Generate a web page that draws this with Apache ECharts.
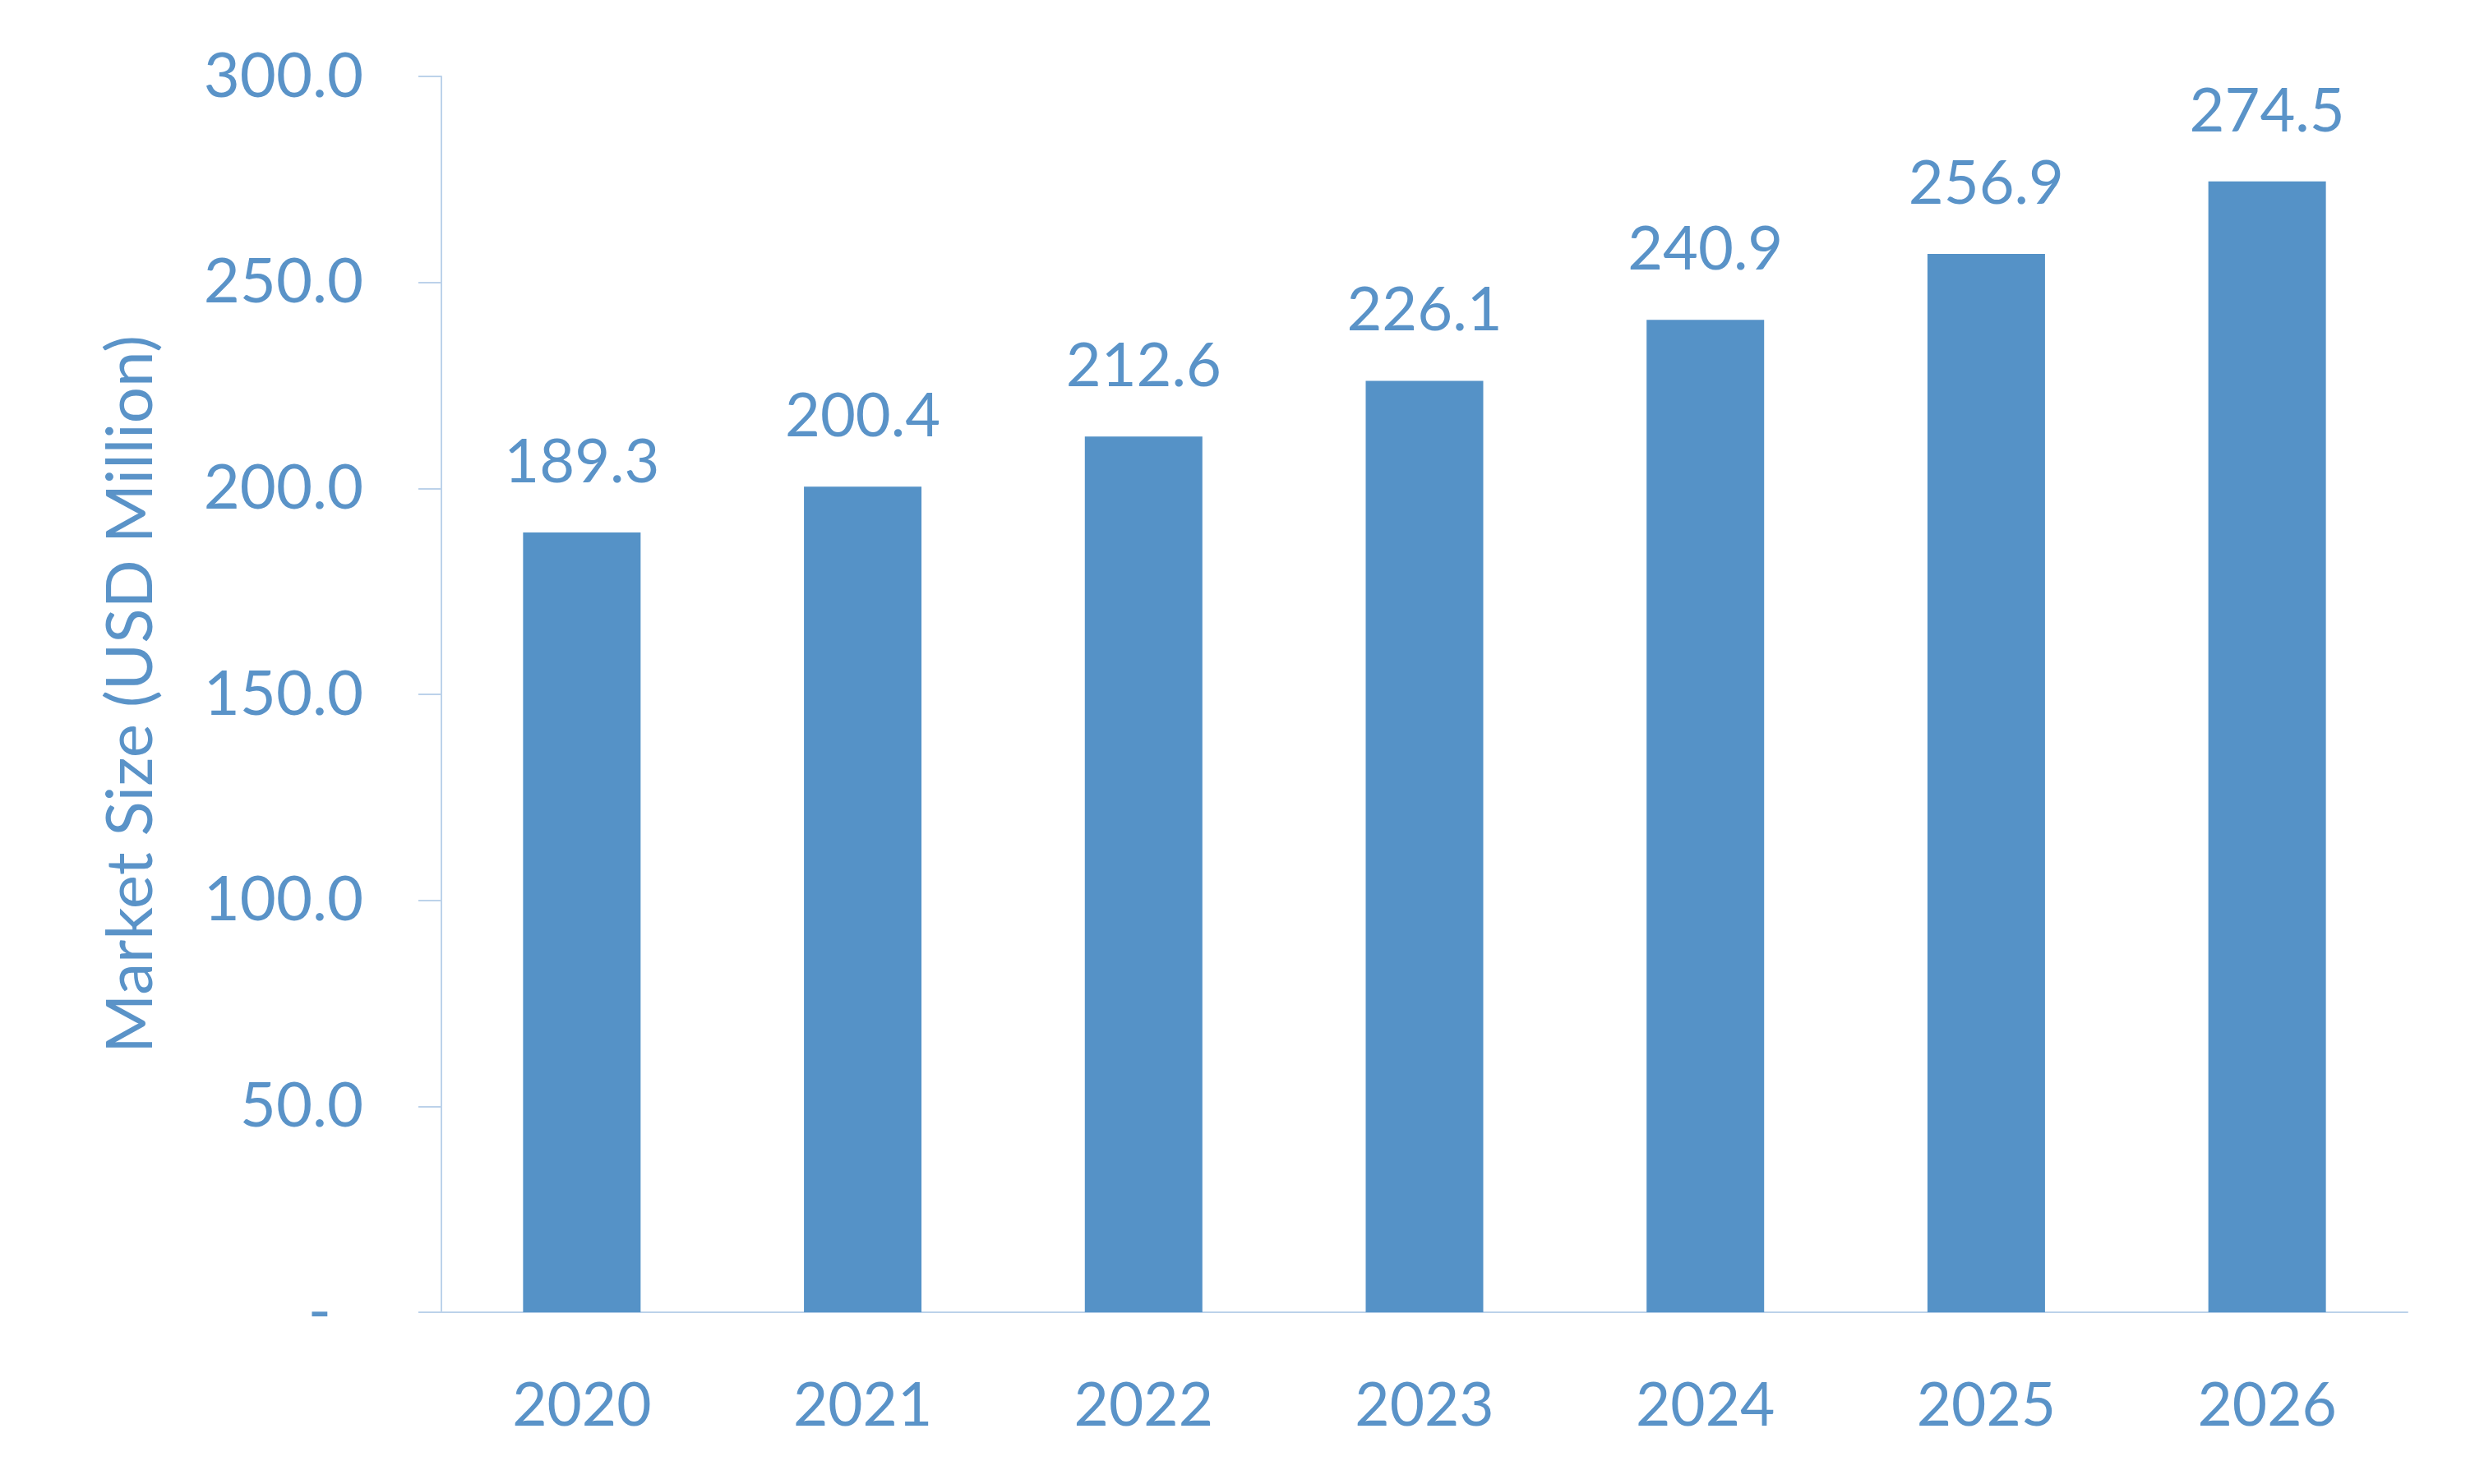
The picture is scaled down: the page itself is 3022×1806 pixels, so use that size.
<!DOCTYPE html>
<html>
<head>
<meta charset="utf-8">
<script src="https://cdn.jsdelivr.net/npm/echarts@6/dist/echarts.min.js"></script>
<style>
html,body{margin:0;padding:0;background:#fff;}
#chart{width:3022px;height:1806px;}
</style>
</head>
<body>
<div id="chart"></div>
<script>
const years = ['2020','2021','2022','2023','2024','2025','2026'];
const marketSize = [189.3, 200.4, 212.6, 226.1, 240.9, 256.9, 274.5];
const yAxisTitle = 'Market Size (USD Million)';
const yMin = 0, yMax = 300, yStep = 50;

const textColor = '#5A93C8';
const barColor = '#5592C7';
const lineColor = '#BCD2EA';
const fontFamily = 'Lato, "Open Sans", sans-serif';

const chart = echarts.init(document.getElementById('chart'), null, {renderer:'canvas'});
chart.setOption({
  backgroundColor: '#ffffff',
  animation: false,
  grid: {left: 537, right: 93, top: 93, bottom: 209, containLabel: false},
  xAxis: {
    type: 'category',
    data: years,
    axisLine: {show: true, lineStyle: {color: lineColor, width: 2}},
    axisTick: {show: false},
    axisLabel: {color: textColor, fontSize: 73, fontFamily: fontFamily, margin: 78, lineHeight: 73}
  },
  yAxis: {
    type: 'value',
    min: yMin, max: yMax, interval: yStep,
    name: yAxisTitle,
    nameLocation: 'middle',
    nameGap: 338,
    nameRotate: 90,
    nameTextStyle: {color: textColor, fontSize: 78, fontFamily: fontFamily},
    axisLine: {show: true, lineStyle: {color: lineColor, width: 2}},
    axisTick: {show: true, length: 28, lineStyle: {color: lineColor, width: 2}},
    splitLine: {show: false},
    axisLabel: {
      color: textColor, fontSize: 76, fontFamily: fontFamily, margin: 95,
      formatter: function (v) { return v === 0 ? '-  ' : v.toFixed(1); }
    }
  },
  series: [{
    type: 'bar',
    data: marketSize,
    barWidth: 143,
    itemStyle: {color: barColor},
    label: {
      show: true, position: 'top', distance: 48,
      color: textColor, fontSize: 74, fontFamily: fontFamily, lineHeight: 74,
      formatter: function (p) { return p.value.toFixed(1); }
    }
  }]
});
</script>
</body>
</html>
